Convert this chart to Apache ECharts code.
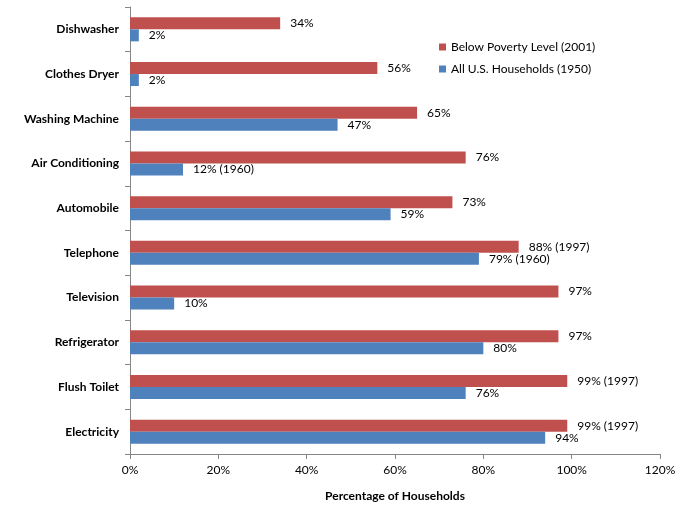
<!DOCTYPE html>
<html>
<head>
<meta charset="utf-8">
<script src="https://cdn.jsdelivr.net/npm/echarts@6/dist/echarts.min.js"></script>
<style>
  html, body { margin: 0; padding: 0; background: #fff; }
  #chart { width: 683px; height: 507px; }
</style>
</head>
<body>
<div id="chart"></div>
<script>
const categories = [
    'Dishwasher', 'Clothes Dryer', 'Washing Machine', 'Air Conditioning', 'Automobile',
    'Telephone', 'Television', 'Refrigerator', 'Flush Toilet', 'Electricity'
];
const povertyValues = [34, 56, 65, 76, 73, 88, 97, 97, 99, 99];
const povertyNotes = ['', '', '', '', '', '(1997)', '', '', '(1997)', '(1997)'];
const allValues = [2, 2, 47, 12, 59, 79, 10, 80, 76, 94];
const allNotes = ['', '', '', '(1960)', '', '(1960)', '', '', '', ''];
const xTicks = [0, 20, 40, 60, 80, 100, 120];

const font = 'Lato, "Open Sans", sans-serif';
const myChart = echarts.init(document.getElementById('chart'));

function labelFor (notes)
{
    return {
        show: true,
        position: 'right',
        distance: 10,
        color: '#000',
        fontFamily: font,
        fontSize: 12,
        formatter: function (p)
        {
            const n = notes[p.dataIndex];
            return p.value + '%' + (n ? ' ' + n : '');
        }
    };
}

const option = {
    animation: false,
    color: ['#C0504D', '#4F81BD'],
    legend: {
        orient: 'vertical',
        left: 434,
        top: 36,
        itemWidth: 7,
        itemHeight: 7,
        itemGap: 10,
        icon: 'rect',
        textStyle: { fontFamily: font, fontSize: 12, color: '#000' },
        data: ['Below Poverty Level (2001)', 'All U.S. Households (1950)']
    },
    grid: {
        left: 130,
        right: 23,
        top: 7,
        bottom: 53
    },
    xAxis: {
        type: 'value',
        min: 0,
        max: 120,
        interval: 20,
        name: 'Percentage of Households',
        nameLocation: 'middle',
        nameGap: 36,
        nameTextStyle: { fontFamily: font, fontSize: 12, fontWeight: 'bold', color: '#000' },
        axisLine: { show: true, lineStyle: { color: '#868686' } },
        axisTick: { show: true, length: 5, lineStyle: { color: '#868686' } },
        axisLabel: {
            margin: 10,
            fontFamily: font,
            fontSize: 12,
            color: '#000',
            formatter: function (v) { return xTicks.indexOf(v) >= 0 ? v + '%' : ''; }
        },
        splitLine: { show: false }
    },
    yAxis: {
        type: 'category',
        inverse: true,
        data: categories,
        axisLine: { show: true, lineStyle: { color: '#868686' } },
        axisTick: { show: true, length: 5, lineStyle: { color: '#868686' } },
        axisLabel: {
            margin: 11,
            fontFamily: font,
            fontSize: 12,
            fontWeight: 'bold',
            color: '#000'
        }
    },
    series: [
        {
            name: 'Below Poverty Level (2001)',
            type: 'bar',
            data: povertyValues,
            barWidth: 12,
            barGap: '0%',
            label: labelFor(povertyNotes)
        },
        {
            name: 'All U.S. Households (1950)',
            type: 'bar',
            data: allValues,
            barWidth: 12,
            barGap: '0%',
            label: labelFor(allNotes)
        }
    ]
};
myChart.setOption(option);
</script>
</body>
</html>
